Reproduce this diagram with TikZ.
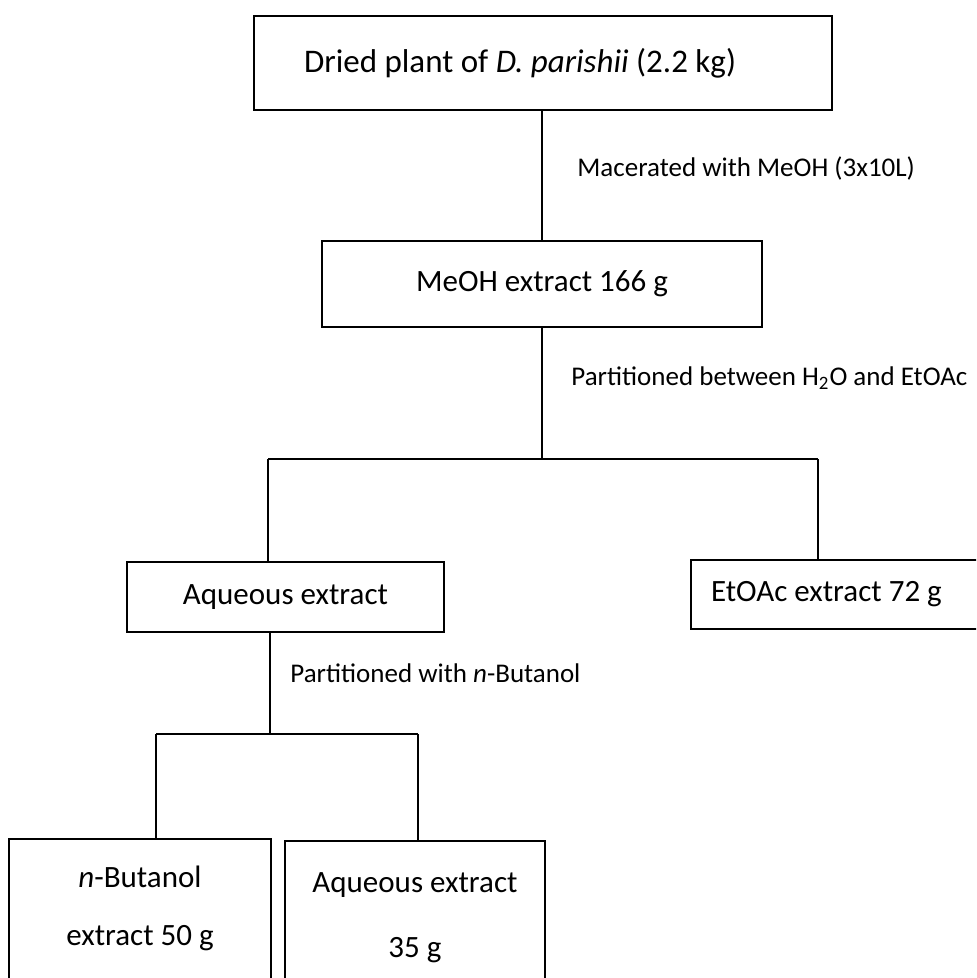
\documentclass[tikz,border=0pt]{standalone}
\usepackage{fontspec}
\setmainfont{Carlito}
\usetikzlibrary{shapes}
\tikzset{
	stepbox/.style={rectangle, draw, line width=1pt, align=flush center, inner sep=0pt, font=\fontsize{15.5}{18}\selectfont},
	tallbox/.style={stepbox, anchor=north, text width=#1, minimum width=#1, text height=24pt, text depth=120pt},
	note/.style={anchor=west, inner sep=0pt, font=\fontsize{13.5}{16}\selectfont},
	link/.style={line width=1pt},
}

\begin{document}
\begin{tikzpicture}[x=0.5pt, y=-0.5pt]
	\useasboundingbox (0,0) rectangle (976,978);
	\clip (0,0) rectangle (976,978);
	% the extraction steps
	\node (plant) [stepbox, anchor=west, align=flush left, inner xsep=25pt, text width=239pt, minimum height=47pt, font=\fontsize{16.5}{19}\selectfont] at (253,63) {Dried plant of \textit{D. parishii} (2.2 kg)};
	\node (meoh) [stepbox, minimum width=220pt, minimum height=43pt] at (542,284) {MeOH extract 166 g};
	\node (aq) [stepbox, minimum width=158.5pt, minimum height=35pt] at (285.5,597) {Aqueous extract};
	\node (etoac) [stepbox, anchor=west, text width=150pt, align=flush left, inner xsep=10pt, minimum height=34.5pt] at (690,594.5) {EtOAc extract 72 g};
	\node (buoh) [tallbox=131pt, font=\fontsize{15.5}{29}\selectfont] at (140,838) {\textit{n}-Butanol\\extract 50 g};
	\node (aqres) [tallbox=130pt, text height=25.5pt, font=\fontsize{15.5}{32.5}\selectfont] at (415,840) {Aqueous extract\\35 g};
	% branch points
	\coordinate (split1) at (542,459);
	\coordinate (s1l) at (268,459);
	\coordinate (s1r) at (818,459);
	\coordinate (split2) at (270,734);
	\coordinate (s2l) at (156,734);
	\coordinate (s2r) at (418,734);
	% the connectors
	\draw[link] (plant.south -| split1) -- (meoh);
	\draw[link] (meoh) -- (split1);
	\draw[link] (s1l) -- (s1r);
	\draw[link] (s1l) -- (s1l |- aq.north);
	\draw[link] (s1r) -- (s1r |- etoac.north);
	\draw[link] (split2 |- aq.south) -- (split2);
	\draw[link] (s2l) -- (s2r);
	\draw[link] (s2l) -- (s2l |- buoh.north);
	\draw[link] (s2r) -- (s2r |- aqres.north);
	% labels on the steps
	\node (mac) [note] at (577,168) {Macerated with MeOH (3x10L)};
	\node (part) [note] at (571,378) {Partitioned between H\textsubscript{2}O and EtOAc};
	\node (but) [note] at (290,673) {Partitioned with \textit{n}-Butanol};
\end{tikzpicture}
\end{document}
